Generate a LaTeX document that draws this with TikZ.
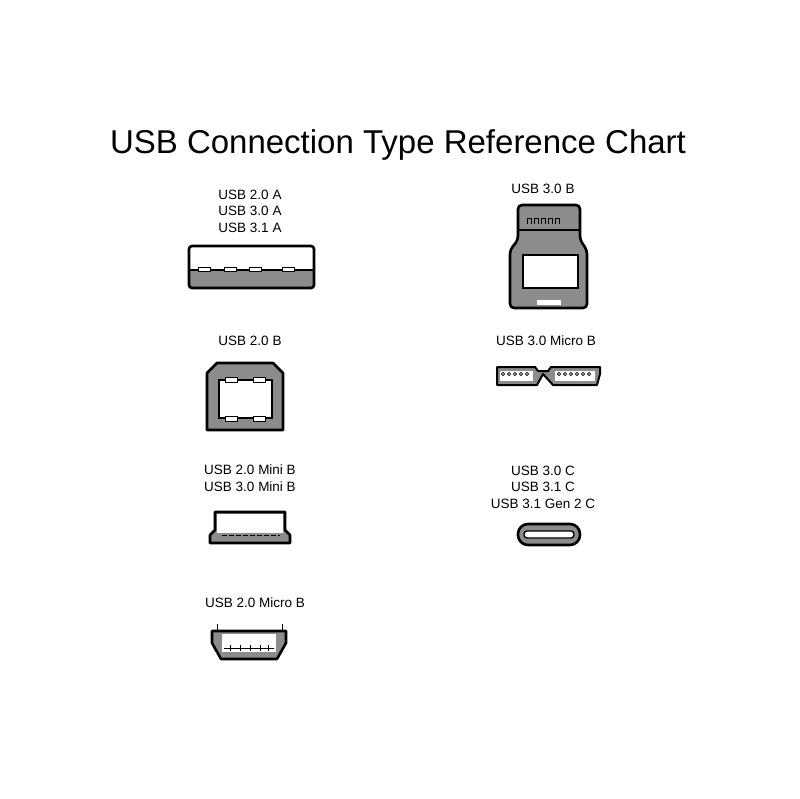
\documentclass[tikz,border=0pt]{standalone}
\usepackage{fontspec}
\setmainfont{Liberation Sans}
\begin{document}
\begin{tikzpicture}[x=1pt,y=-1pt,
 lbl/.style={font=\fontsize{13.5}{16.5}\selectfont,align=center,inner sep=0pt},
 plug/.style={draw=black,line width=2.6pt,fill=gry,line join=round},
 win/.style={draw=black,line width=1.4pt,fill=white}]
\definecolor{gry}{HTML}{8C8C8C}
\useasboundingbox (0,0) rectangle (800,799);
\node (title) at (398,145) {\fontsize{33}{36}\selectfont USB Connection Type Reference Chart};
% USB A
\node[lbl] (la) at (250,211) {USB 2.0 A\\USB 3.0 A\\USB 3.1 A};
\fill[gry] (189,270) rectangle (314,288);
\draw[line width=2.6pt,rounded corners=3pt] (189,246) rectangle (314,288);
\draw[line width=2pt] (189,270) -- (314,270);
\foreach \x in {204,230,255,288}{\draw[fill=white,line width=1pt] (\x-6,268) rectangle (\x+6,272);}
% USB 3.0 B
\node[lbl] (l3b) at (543,189) {USB 3.0 B};
\draw[plug,rounded corners=4pt] (518,205) -- (580,205) -- (580,240) -- (587,250) -- (587,308) -- (510,308) -- (510,250) -- (518,240) -- cycle;
\draw[line width=1.2pt] (519,230) -- (579,230);
\foreach \x in {529,536,543,550,557}{\draw[line width=1pt] (\x-2,224) -- (\x-2,219) -- (\x+2,219) -- (\x+2,224);}
\draw[win] (523,255) rectangle (578,288);
\fill[white] (537,300) rectangle (561,305);
% USB 2.0 B
\node[lbl] (l2b) at (250,341) {USB 2.0 B};
\draw[plug] (217,363) -- (273,363) -- (283,373) -- (283,430) -- (207,430) -- (207,373) -- cycle;
\draw[win] (219,380) rectangle (272,418);
\foreach \x in {231,259}{\draw[fill=white,line width=1pt] (\x-6,377) rectangle (\x+6,382); \draw[fill=white,line width=1pt] (\x-6,416) rectangle (\x+6,421);}
% USB 3.0 Micro B
\node[lbl] (l3m) at (546,341) {USB 3.0 Micro B};
\draw[plug,line width=2pt] (497,367) -- (535,367) -- (538,371) -- (548,371) -- (551,367) -- (600,367) -- (600,374) -- (597,385) -- (553,385) -- (543,374) -- (537,385) -- (497,385) -- cycle;
\fill[white] (500,371) rectangle (533,381);
\fill[white] (555,371) rectangle (595,381);
\foreach \x in {503,509,515,521,527,559,565,571,577,583,589}{\draw[line width=0.7pt] (\x,374) circle (1.6pt);}
% Mini B
\node[lbl] (lmini) at (250,478) {USB 2.0 Mini B\\USB 3.0 Mini B};
\draw[plug] (215,512) -- (285,512) -- (285,530) -- (290,535) -- (290,543) -- (210,543) -- (210,535) -- (215,530) -- cycle;
\fill[white] (217,514) rectangle (283,533);
\draw[line width=1pt,dash pattern=on 5pt off 2pt] (222,535) -- (280,535);
% USB C
\node[lbl] (lc) at (543,487) {USB 3.0 C\\USB 3.1 C\\USB 3.1 Gen 2 C};
\draw[plug,rounded corners=10pt] (518,524) rectangle (580,545);
\draw[line width=1.4pt,fill=white,rounded corners=3pt] (524,531) rectangle (574,538);
% Micro B 2.0
\node[lbl] (lmic) at (255,603) {USB 2.0 Micro B};
\draw[line width=1pt] (217,630) -- (217,624) (282,630) -- (282,624);
\draw[plug] (212,631) -- (286,631) -- (286,643) -- (277,659) -- (221,659) -- (212,643) -- cycle;
\fill[white] (222,634) rectangle (276,652);
\draw[line width=1pt] (224,648) -- (274,648);
\foreach \x in {230,240,250,260,268}{\draw[line width=1pt] (\x,645) -- (\x,651);}
\end{tikzpicture}
\end{document}
